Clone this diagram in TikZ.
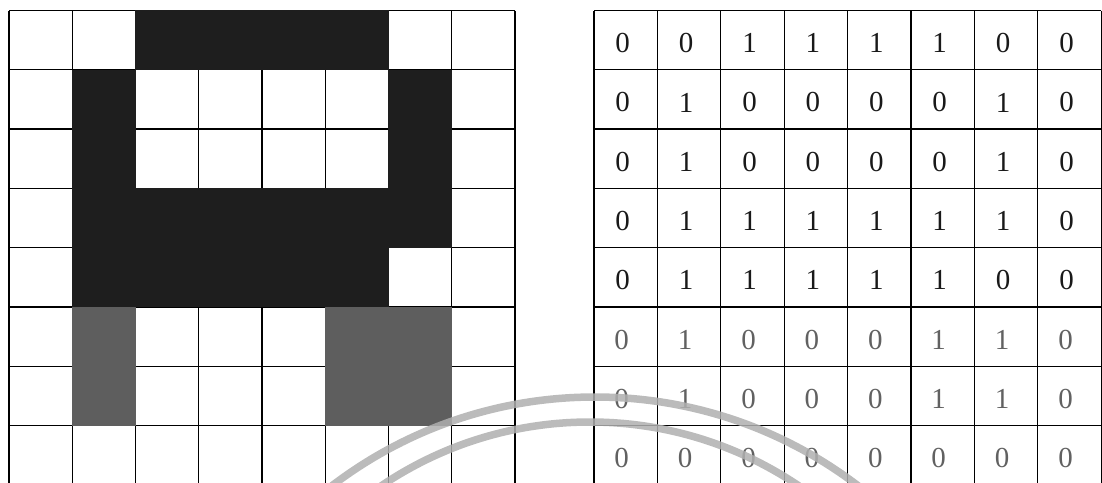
\documentclass[tikz,border=0pt]{standalone}
\usepackage{fontspec}
\setmainfont{Liberation Serif}
\begin{document}
\begin{tikzpicture}[x=1pt,y=-1pt,
  gridline/.style={line width=1.3pt,draw=black},
  blackcell/.style={fill=cellblack},
  graycell/.style={fill=cellgray},
  digit/.style={inner sep=0pt,font=\fontsize{29}{29}\selectfont,text=black!90},
  fadedigit/.style={digit,text=black!62},
  stamp/.style={draw=stampgray,line width=7.5pt,opacity=0.85}
]
\definecolor{cellblack}{HTML}{1E1E1E}
\definecolor{cellgray}{HTML}{5E5E5E}
\definecolor{stampgray}{HTML}{B0B0B0}
\useasboundingbox (0,0) rectangle (1102,482);
\fill[white] (0,0) rectangle (1102,482);
\begin{scope}
\clip (0,0) rectangle (1102,482);
% left grid lines
\foreach \i in {0,...,8} {
  \draw[gridline] ({9+63.25*\i},10.5) -- ({9+63.25*\i},485);
  \draw[gridline] (9,{10.5+59.3*\i}) -- (515,{10.5+59.3*\i});
}
% filled cells drawn over the grid (no inner lines)
\foreach \r/\c/\s in {0/2/blackcell,0/3/blackcell,0/4/blackcell,0/5/blackcell,
  1/1/blackcell,1/6/blackcell,2/1/blackcell,2/6/blackcell,
  3/1/blackcell,3/2/blackcell,3/3/blackcell,3/4/blackcell,3/5/blackcell,3/6/blackcell,
  4/1/blackcell,4/2/blackcell,4/3/blackcell,4/4/blackcell,4/5/blackcell,
  5/1/graycell,5/5/graycell,5/6/graycell,6/1/graycell,6/5/graycell,6/6/graycell}
  \path[\s] ({9+63.25*\c-0.3},{10.5+59.3*\r-0.3}) rectangle ({9+63.25*(\c+1)+0.3},{10.5+59.3*(\r+1)+0.3});
% right grid
\foreach \i in {0,...,8} {
  \draw[gridline] ({594+63.4*\i},10.5) -- ({594+63.4*\i},485);
  \draw[gridline] (594,{10.5+59.3*\i}) -- (1101.2,{10.5+59.3*\i});
}
\foreach \row [count=\r from 0] in {{0,0,1,1,1,1,0,0},{0,1,0,0,0,0,1,0},{0,1,0,0,0,0,1,0},
  {0,1,1,1,1,1,1,0},{0,1,1,1,1,1,0,0}} {
  \foreach \v [count=\c from 0] in \row
    \node[digit] (v-\r-\c) at ({594+63.4*(\c+0.5)-3},{10.5+59.3*(\r+0.5)+3}) {\v};
}
\foreach \row [count=\r from 5] in {{0,1,0,0,0,1,1,0},{0,1,0,0,0,1,1,0},{0,0,0,0,0,0,0,0}} {
  \foreach \v [count=\c from 0] in \row
    \node[fadedigit] (v-\r-\c) at ({594+63.4*(\c+0.5)-4},{10.5+59.3*(\r+0.5)+3}) {\v};
}
% faint stamp arcs
\draw[stamp] (595,831) circle[radius=434];
\draw[stamp] (590,795) circle[radius=373];
\end{scope}
\end{tikzpicture}
\end{document}
